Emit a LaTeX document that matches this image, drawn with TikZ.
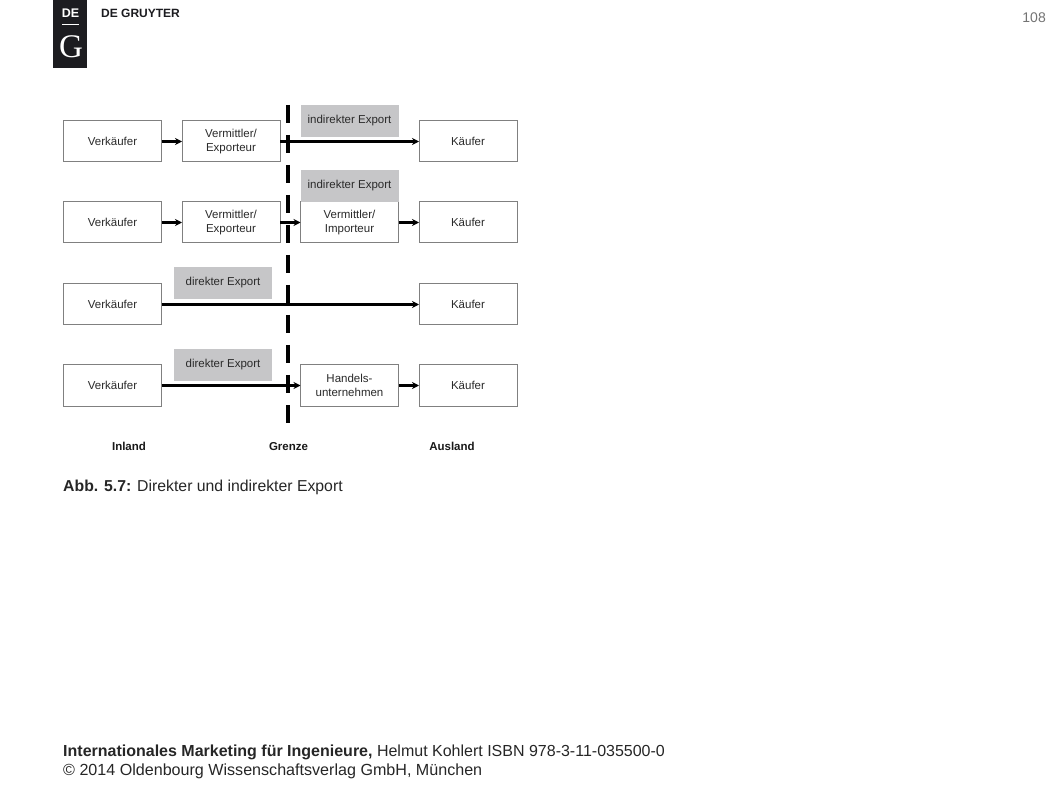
\documentclass[tikz,border=0pt]{standalone}
\usepackage{fontspec}
\setmainfont{Liberation Sans}
\newfontfamily\logoserif{Liberation Serif}
\usetikzlibrary{positioning,arrows.meta}
\definecolor{logodark}{HTML}{1C1C20}
\definecolor{labelgray}{HTML}{C6C6C8}
\definecolor{boxline}{HTML}{808080}
\definecolor{textdark}{HTML}{2A2A2A}

\begin{document}
\begin{tikzpicture}[x=1pt, y=-1pt, font=\fontsize{11.5}{14}\selectfont, node distance=40pt and 20.5pt, text=textdark,
  box/.style={draw=boxline, line width=1pt, align=center, inner sep=0pt, outer sep=0pt, minimum width=98pt, minimum height=41pt, fill=white},
  tag/.style={fill=labelgray, align=center, inner sep=0pt, outer sep=0pt, minimum width=98pt, minimum height=32pt},
  foot/.style={anchor=base west, inner sep=0pt, font=\fontsize{16}{18}\selectfont, text=black!85},
  head/.style={inner sep=0pt, font=\bfseries\fontsize{11.5}{13}\selectfont, text=black!90},
  arr/.style={-{Stealth[length=7pt, width=7pt]}, line width=2.4pt, black},
  border/.style={line width=4.5pt, black, dash pattern=on 18pt off 12pt}]
\useasboundingbox (0,0) rectangle (1058,794);
% logo and page number
\node[fill=logodark, minimum width=34pt, minimum height=68pt, inner sep=0pt, outer sep=0pt] (logo) at (70,34) {};
\node[inner sep=0pt, text=white, font=\bfseries\fontsize{12.5}{14}\selectfont] (logode) at (70.5,13) {DE};
\node[fill=white, inner sep=0pt, minimum width=17pt, minimum height=1pt] (logorule) at (70.5,25) {};
\node[inner sep=0pt, text=white, font=\logoserif\fontsize{33}{33}\selectfont] (logog) at (71,47) {G};
\node[inner sep=0pt, text=logodark, font=\bfseries\fontsize{12}{14}\selectfont, anchor=west] (publisher) at (101,13) {DE GRUYTER};
\node[inner sep=0pt, text=black!55, font=\fontsize{14}{16}\selectfont, anchor=east] (pagenum) at (1046,18) {108};
% rows
\node[box] (sell1) at (112.5,141.5) {Verkäufer};
\node[box, right=of sell1] (exp1) {Vermittler/\\Exporteur};
\node[box, right=139pt of exp1] (buy1) {Käufer};
\node[box, below=of sell1] (sell2) {Verkäufer};
\node[box, right=of sell2] (exp2) {Vermittler/\\Exporteur};
\node[box, right=of exp2] (imp2) {Vermittler/\\Importeur};
\node[box, right=of imp2] (buy2) {Käufer};
\node[box, below=41pt of sell2] (sell3) {Verkäufer};
\node[box, below=41pt of buy2] (buy3) {Käufer};
\node[box, below=of sell3] (sell4) {Verkäufer};
\node[box, below=122pt of imp2] (trade4) {Handels-\\unternehmen};
\node[box, right=of trade4] (buy4) {Käufer};
% gray labels
\node[tag] (tag1) at (349.5,121) {indirekter Export};
\node[tag, above=0pt of imp2] (tag2) {indirekter Export};
\node[tag] (tag3) at (223,283) {direkter Export};
\node[tag] (tag4) at (223,365) {direkter Export};
% border
\coordinate (bordertop) at (288,105);
\coordinate (borderbot) at (288,423);
\draw[arr] (sell1) -- (exp1); \draw[arr] (exp1) -- (buy1);
\draw[arr] (sell2) -- (exp2); \draw[arr] (exp2) -- (imp2); \draw[arr] (imp2) -- (buy2);
\draw[arr] (sell3) -- (buy3);
\draw[arr] (sell4) -- (trade4); \draw[arr] (trade4) -- (buy4);
\draw[border] (bordertop) -- (borderbot);
% column heads and caption
\node[head] (inland) at (129,446.5) {Inland};
\node[head] (grenze) at (288.5,446.5) {Grenze};
\node[head] (ausland) at (452,446.5) {Ausland};
\node[foot, font=\fontsize{15.8}{18}\selectfont] (caption) at (63,491.5) {\textbf{Abb. 5.7:} Direkter und indirekter Export};
\node[foot] (foot1) at (63,756.5) {\textbf{Internationales Marketing für Ingenieure,} Helmut Kohlert ISBN 978-3-11-035500-0};
\node[foot, font=\fontsize{16.1}{18}\selectfont] (foot2) at (63,775) {© 2014 Oldenbourg Wissenschaftsverlag GmbH, München};
\end{tikzpicture}
\end{document}
